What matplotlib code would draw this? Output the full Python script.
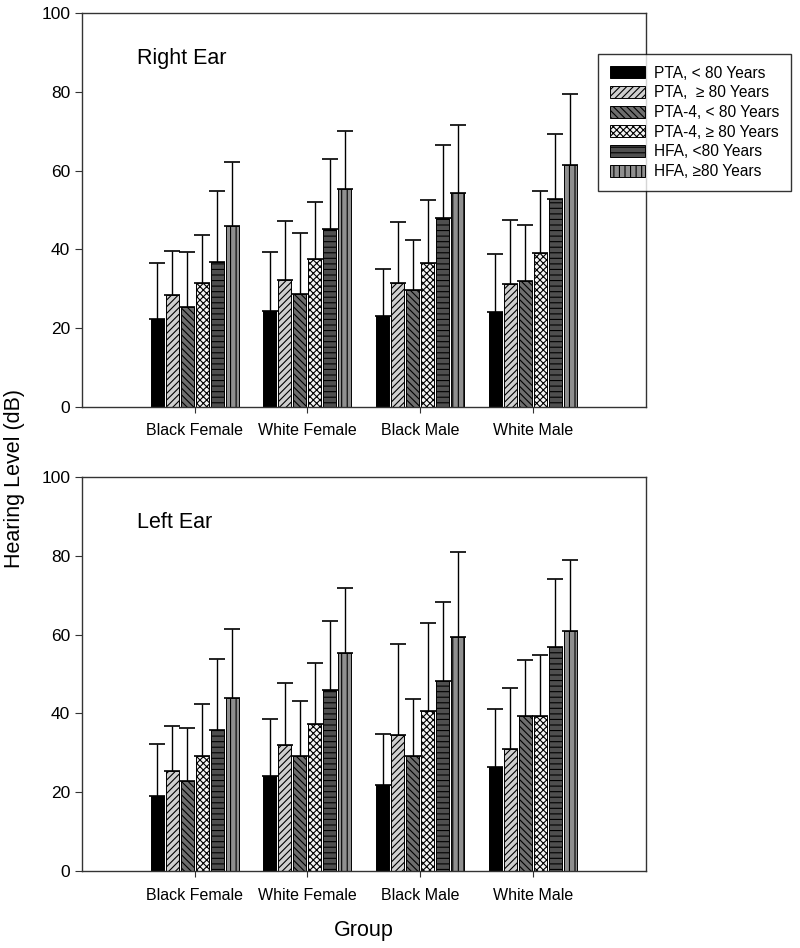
import matplotlib
matplotlib.use("Agg")
import matplotlib.pyplot as plt
import numpy as np

plt.rcParams['font.family'] = ['Liberation Sans', 'DejaVu Sans']
plt.rcParams['hatch.linewidth'] = 0.8

groups = ["Black Female", "White Female", "Black Male", "White Male"]
series = ["PTA, < 80 Years", "PTA,  \u2265 80 Years", "PTA-4, < 80 Years",
          "PTA-4, \u2265 80 Years", "HFA, <80 Years", "HFA, \u226580 Years"]

# Right ear means and upper error bar tops (per series, per group)
right_mean = [
    [22.3, 24.3, 22.9, 24.1],
    [28.3, 32.1, 31.4, 31.1],
    [25.2, 28.7, 29.7, 31.9],
    [31.3, 37.5, 36.5, 39.0],
    [36.8, 45.1, 47.9, 52.9],
    [45.9, 55.3, 54.2, 61.4],
]
right_top = [
    [36.6, 39.4, 34.9, 38.9],
    [39.6, 47.1, 46.9, 47.4],
    [39.3, 44.2, 42.4, 46.3],
    [43.7, 52.0, 52.5, 54.9],
    [54.8, 62.9, 66.6, 69.3],
    [62.2, 70.1, 71.7, 79.4],
]
# Left ear
left_mean = [
    [19.0, 24.1, 21.8, 26.3],
    [25.5, 31.9, 34.4, 31.0],
    [22.8, 29.1, 29.1, 39.3],
    [29.1, 37.2, 40.6, 39.3],
    [35.7, 45.9, 48.3, 56.9],
    [43.8, 55.3, 59.5, 61.0],
]
left_top = [
    [32.3, 38.6, 34.7, 41.2],
    [36.8, 47.8, 57.6, 46.5],
    [36.4, 43.2, 43.7, 53.6],
    [42.4, 52.7, 63.0, 54.9],
    [53.7, 63.5, 68.3, 74.1],
    [61.5, 71.9, 81.0, 78.9],
]

colors = ["#000000", "#cfcfcf", "#6e6e6e", "#f4f4f4", "#4f4f4f", "#8f8f8f"]
hatches = [None, "/////", "\\\\\\\\\\", "xxxxx", "---", "|||"]

fig = plt.figure(figsize=(8, 9.48), dpi=100)
ax1 = fig.add_axes([0.1025, 0.5712, 0.7045, 0.4146])
ax2 = fig.add_axes([0.1025, 0.0812, 0.7045, 0.4156])

pitch = 0.133
width = 0.116
x = np.arange(1, len(groups) + 1)

def draw(ax, means, tops, title):
    handles = []
    for i in range(len(series)):
        pos = x + (i - 2.5) * pitch
        m = np.array(means[i])
        t = np.array(tops[i])
        b = ax.bar(pos, m, width, color=colors[i], edgecolor="black",
                   linewidth=0.7, hatch=hatches[i], label=series[i], zorder=2)
        ax.errorbar(pos, m, yerr=[np.zeros_like(m), t - m], fmt="none",
                    ecolor="black", elinewidth=1.0, capsize=6, capthick=1.2, zorder=1)
        handles.append(b)
    ax.set_xlim(0, 5)
    ax.set_ylim(0, 100)
    ax.set_xticks(x)
    ax.set_xticklabels(groups, fontsize=11.5)
    ax.set_yticks(np.arange(0, 101, 20))
    ax.tick_params(axis="y", labelsize=12.5, direction="out", length=5, color="#333333")
    ax.tick_params(axis="x", direction="out", length=4, color="#333333", pad=8)
    for s in ax.spines.values():
        s.set_color("#333333")
        s.set_linewidth(1.0)
    ax.text(0.098, 0.885, title, transform=ax.transAxes, fontsize=15.5,
            ha="left", va="center")
    return handles

h = draw(ax1, right_mean, right_top, "Right Ear")
draw(ax2, left_mean, left_top, "Left Ear")

leg = fig.legend(handles=h, labels=series, loc="upper left",
                 bbox_to_anchor=(0.7475, 0.943), borderaxespad=0, fontsize=11.2,
                 frameon=True, fancybox=False, edgecolor="black",
                 handlelength=2.3, handleheight=0.8, labelspacing=0.3,
                 borderpad=0.75, handletextpad=0.55)
leg.get_frame().set_linewidth(1.0)

fig.text(0.018, 0.495, "Hearing Level (dB)", rotation=90, fontsize=15.5,
         ha="center", va="center")
fig.text(0.455, 0.018, "Group", fontsize=15.5, ha="center", va="center")

fig.savefig("out.png", dpi=100)
